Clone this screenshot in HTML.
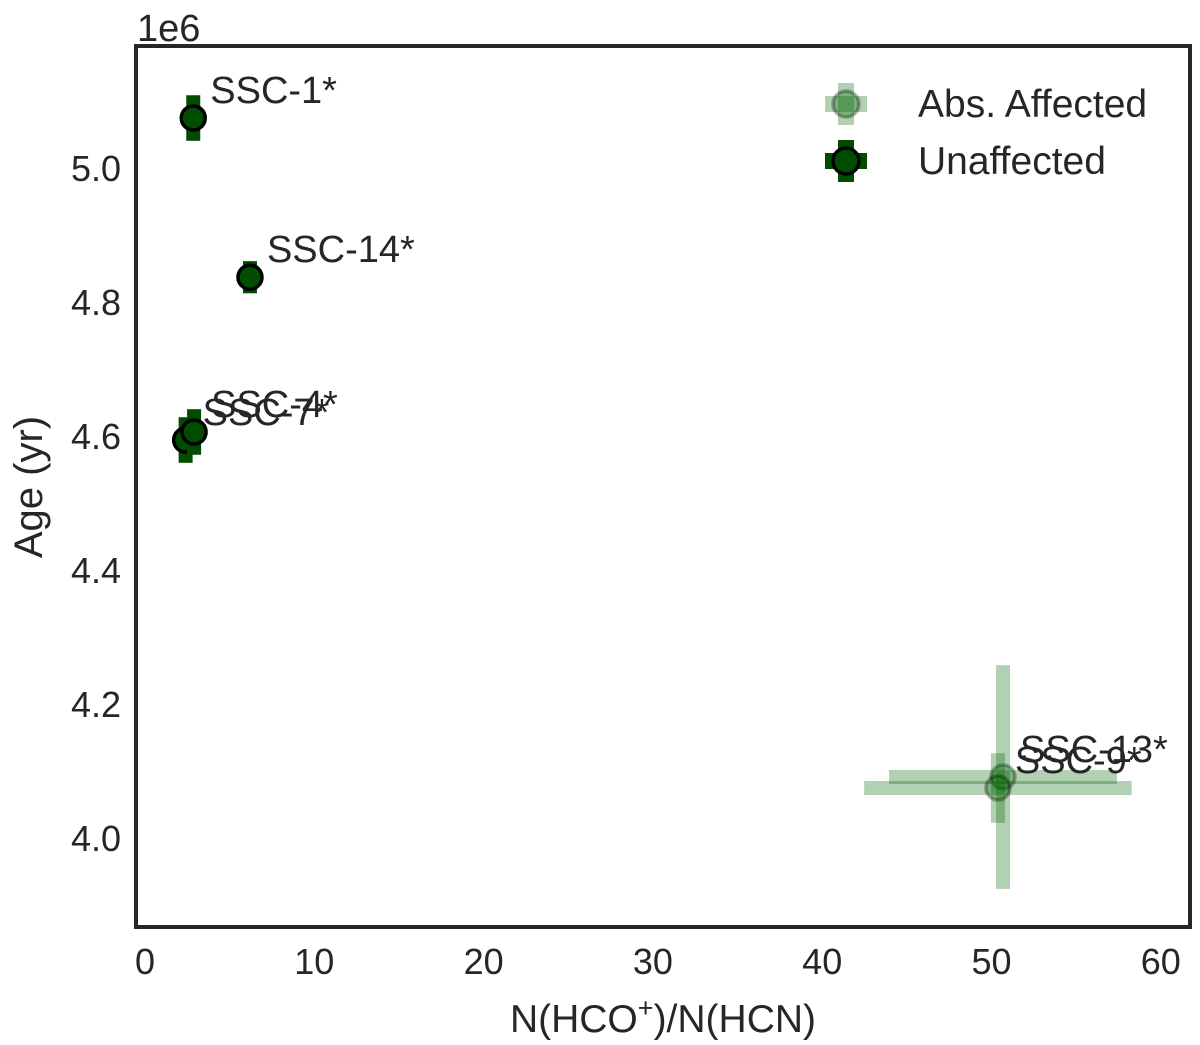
<!DOCTYPE html>
<html><head><meta charset="utf-8"><style>
body{margin:0;background:#fff;}
svg text{font-family:"Liberation Sans",sans-serif;fill:#262626;}
</style></head><body>
<svg id="chart" width="1200" height="1040">
<rect x="136" y="46" width="1054" height="881" fill="#fff" stroke="#262626" stroke-width="4"/>
<g id="ticks"></g>
<g id="marks"></g>
<text x="137" y="41" font-size="38">1e6</text>
<text x="663" y="1032" font-size="39" text-anchor="middle">N(HCO<tspan baseline-shift="super" font-size="27">+</tspan>)/N(HCN)</text>
<text transform="translate(42,487) rotate(-90)" font-size="40" text-anchor="middle">Age (yr)</text>
<g>
<g>
<rect x="838" y="83" width="16" height="42" fill="rgba(0,100,0,0.3)"/>
<rect x="825" y="96" width="42" height="16" fill="rgba(0,100,0,0.3)"/>
<circle cx="846" cy="104" r="13" fill="rgba(0,100,0,0.3)" stroke="rgba(0,0,0,0.3)" stroke-width="3.5"/>
<text x="918" y="117" font-size="39">Abs. Affected</text></g>
<g>
<rect x="838" y="140" width="16" height="42" fill="#004d00"/>
<rect x="825" y="153" width="42" height="16" fill="#004d00"/>
<circle cx="846" cy="161" r="13" fill="#004d00" stroke="#000" stroke-width="3.5"/>
<text x="918" y="174" font-size="39">Unaffected</text></g>
</g>
</svg>
<script>
const labels=["SSC-1*","SSC-14*","SSC-7*","SSC-4*","SSC-13*","SSC-9*"];
const xVals=[2.85,6.2,2.4,2.9,50.68,50.38];
const yVals=[5.0746e6,4.837e6,4.594e6,4.606e6,4.091e6,4.0746e6];
const xErr=[0.15,0.15,0.15,0.15,6.73,7.9];
const yErr=[0.034e6,0.024e6,0.034e6,0.034e6,0.167e6,0.052e6];
const affected=[false,false,false,false,true,true];
const xTicks=[0,10,20,30,40,50,60];
const yTicks=[4.0e6,4.2e6,4.4e6,4.6e6,4.8e6,5.0e6];
const yTickLabels=["4.0","4.2","4.4","4.6","4.8","5.0"];
const NS="http://www.w3.org/2000/svg";
const X=v=>145+v*16.93;
const Y=v=>168+(5.0e6-v)*670e-6;
function mk(tag,attrs,parent){const e=document.createElementNS(NS,tag);for(const k in attrs)e.setAttribute(k,attrs[k]);parent.appendChild(e);return e;}
const tg=document.getElementById('ticks');
xTicks.forEach(t=>{const e=mk('text',{x:X(t),y:974,'font-size':36,'text-anchor':'middle'},tg);e.textContent=t;

});
yTicks.forEach((t,i)=>{const e=mk('text',{x:121,y:Y(t)+13,'font-size':36,'text-anchor':'end'},tg);e.textContent=yTickLabels[i];

});
const mg=document.getElementById('marks');
labels.forEach((l,i)=>{
const g=mk('g',{},mg);


const fill=affected[i]?'rgba(0,100,0,0.3)':'#004d00';
const cx=X(xVals[i]),cy=Y(yVals[i]);
const y1=Y(yVals[i]+yErr[i]),y2=Y(yVals[i]-yErr[i]);
mk('rect',{x:cx-7,y:y1,width:14,height:y2-y1,fill:fill},g);
const x1=X(xVals[i]-xErr[i]),x2=X(xVals[i]+xErr[i]);
if(affected[i])mk('rect',{x:x1,y:cy-7,width:x2-x1,height:14,fill:fill},g);
mk('circle',{cx:cx,cy:cy,r:12,fill:fill,stroke:affected[i]?'rgba(0,0,0,0.3)':'#000','stroke-width':3.5},g);
const t=mk('text',{x:cx+17,y:cy-15,'font-size':38},g);t.textContent=l;
});
</script>
</body></html>
